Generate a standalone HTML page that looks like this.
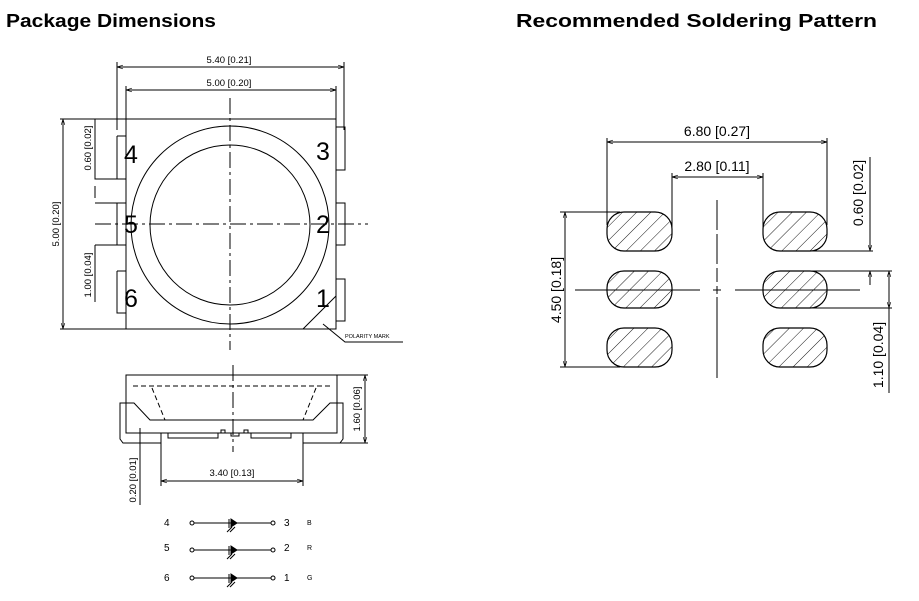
<!DOCTYPE html>
<html><head><meta charset="utf-8"><style>
html,body{margin:0;padding:0;background:#fff;width:919px;height:601px;overflow:hidden}
svg{display:block}
text{font-family:"Liberation Sans",sans-serif;fill:#000}
</style></head><body>
<svg width="919" height="601" viewBox="0 0 919 601" xmlns="http://www.w3.org/2000/svg">
<defs>
<pattern id="h" patternUnits="userSpaceOnUse" width="10" height="10" patternTransform="rotate(45)">
<line x1="0" y1="0" x2="0" y2="10" stroke="#000" stroke-width="0.9"/>
</pattern>
<marker id="a" viewBox="0 0 10 10" refX="10" refY="5" markerWidth="6" markerHeight="6" orient="auto-start-reverse"><path d="M0,2 L10,5 L0,8" fill="none" stroke="#000"/></marker>
</defs>
<text x="6" y="27" font-size="18" font-weight="bold" textLength="210" lengthAdjust="spacingAndGlyphs">Package Dimensions</text>
<text x="516" y="27" font-size="18" font-weight="bold" textLength="361" lengthAdjust="spacingAndGlyphs">Recommended Soldering Pattern</text>

<g stroke="#000" stroke-width="1" fill="none">
<!-- top view -->
<rect x="126" y="119" width="210" height="210"/>
<circle cx="230" cy="225" r="99"/>
<circle cx="230" cy="225" r="80"/>
<path d="M117,136h9M117,136v43h9M117,203v42h9M117,203h9M117,271v42h9M117,271h9"/>
<path d="M336,127h9v43h-9M336,203h9v42h-9M336,279h9v42h-9"/>
<line x1="230" y1="98" x2="230" y2="350" stroke-dasharray="16,4,3,4"/>
<line x1="95" y1="224" x2="368" y2="224" stroke-dasharray="16,4,3,4"/>
<line x1="117" y1="67" x2="344" y2="67" marker-start="url(#a)" marker-end="url(#a)"/>
<path d="M117,62v68M344,62v68"/>
<line x1="126" y1="90" x2="336" y2="90" marker-start="url(#a)" marker-end="url(#a)"/>
<path d="M126,86v33M336,86v33"/>
<line x1="63" y1="119" x2="63" y2="329" marker-start="url(#a)" marker-end="url(#a)"/>
<path d="M60,119h66M60,329h66"/>
<path d="M95,119v60h22M95,203h22M95,245h22M95,245v57M95,186v12M95,250v12"/>
<path d="M303,329L336,296M323,324L345,342H403"/>
<!-- side view -->
<path d="M126,375H337V433H126Z"/>
<path d="M133,386H331" stroke-dasharray="5,3"/>
<path d="M126,403H134L150,420H313L330,403H337"/>
<path d="M152,388L165,420M316,388L303,420" stroke-dasharray="5,3"/>
<path d="M126,403h-6v36l3,4h38M337,403h6v36l-3,4h-37"/>
<path d="M161,433V443M303,433V443M168,433v5h50v-5h3v-3h4v3h6v3h8v-3h5v-3h4v3h3v5h40v-5"/>
<line x1="233" y1="365" x2="233" y2="452" stroke-dasharray="16,4,3,4"/>
<path d="M161,443V486M303,443V486"/>
<line x1="161" y1="481" x2="303" y2="481" marker-start="url(#a)" marker-end="url(#a)"/>
<path d="M337,375H368M340,443H368"/>
<line x1="365" y1="375" x2="365" y2="443" marker-start="url(#a)" marker-end="url(#a)"/>
<line x1="140" y1="428" x2="140" y2="505"/>
<!-- schematic -->
<g>
<path d="M194,523H271M194,550H271M194,578H271"/>
<circle cx="192" cy="523" r="2"/><circle cx="273" cy="523" r="2"/>
<circle cx="192" cy="550" r="2"/><circle cx="273" cy="550" r="2"/>
<circle cx="192" cy="578" r="2"/><circle cx="273" cy="578" r="2"/>
</g>
<!-- soldering -->
<line x1="717" y1="200" x2="717" y2="282" stroke-dasharray="30,4"/>
<line x1="717" y1="297" x2="717" y2="378"/>
<line x1="575" y1="290" x2="700" y2="290"/>
<line x1="735" y1="290" x2="860" y2="290"/>
<path d="M713,290h8M717,286v8"/>
<line x1="607" y1="142" x2="827" y2="142" marker-start="url(#a)" marker-end="url(#a)"/>
<path d="M607,138V225M827,138V225"/>
<line x1="672" y1="177" x2="763" y2="177" marker-start="url(#a)" marker-end="url(#a)"/>
<path d="M672,173V232M763,173V232"/>
<line x1="565" y1="212" x2="565" y2="367" marker-start="url(#a)" marker-end="url(#a)"/>
<path d="M560,212H620M560,367H620"/>
<line x1="870" y1="157" x2="870" y2="251" marker-end="url(#a)"/>
<line x1="870" y1="285" x2="870" y2="271" marker-end="url(#a)"/>
<path d="M800,251H873M800,271H892M800,308H892"/>
<line x1="889" y1="271" x2="889" y2="308" marker-start="url(#a)" marker-end="url(#a)"/>
<line x1="889" y1="308" x2="889" y2="393"/>
</g>
<g stroke="#000" stroke-width="1.2" fill="url(#h)">
<rect x="607" y="212" width="65" height="39" rx="17"/>
<rect x="763" y="212" width="64" height="39" rx="17"/>
<rect x="607" y="271" width="65" height="37" rx="17"/>
<rect x="763" y="271" width="64" height="37" rx="17"/>
<rect x="607" y="328" width="65" height="39" rx="17"/>
<rect x="763" y="328" width="64" height="39" rx="17"/>
</g>
<!-- diodes -->
<g fill="#000" stroke="#000" stroke-width="1">
<path d="M229,519v9M231,519l6,4l-6,4z"/>
<path d="M229,546v9M231,546l6,4l-6,4z"/>
<path d="M229,574v9M231,574l6,4l-6,4z"/>
<path d="M227,532l5,-5M230,532l5,-5M227,559l5,-5M230,559l5,-5M227,587l5,-5M230,587l5,-5" fill="none"/>
</g>

<g font-size="9.5">
<text x="229" y="63" text-anchor="middle">5.40 [0.21]</text>
<text x="229" y="86" text-anchor="middle">5.00 [0.20]</text>
<text transform="translate(59,224) rotate(-90)" text-anchor="middle">5.00 [0.20]</text>
<text transform="translate(91,148) rotate(-90)" text-anchor="middle">0.60 [0.02]</text>
<text transform="translate(91,275) rotate(-90)" text-anchor="middle">1.00 [0.04]</text>
<text x="232" y="476" text-anchor="middle">3.40 [0.13]</text>
<text transform="translate(360,409) rotate(-90)" text-anchor="middle">1.60 [0.06]</text>
<text transform="translate(136,480) rotate(-90)" text-anchor="middle">0.20 [0.01]</text>
</g>
<text x="345" y="338" font-size="5.5" font-family="Liberation Serif,serif">POLARITY MARK</text>
<g font-size="25">
<text x="124" y="163">4</text><text x="316" y="160">3</text>
<text x="124" y="233">5</text><text x="316" y="233">2</text>
<text x="124" y="307">6</text><text x="316" y="307">1</text>
</g>
<g font-size="10">
<text x="164" y="526">4</text><text x="164" y="551">5</text><text x="164" y="581">6</text>
<text x="284" y="526">3</text><text x="284" y="551">2</text><text x="284" y="581">1</text>
</g>
<g font-size="7">
<text x="307" y="525">B</text><text x="307" y="550">R</text><text x="307" y="580">G</text>
</g>
<g font-size="14">
<text x="717" y="136" text-anchor="middle">6.80 [0.27]</text>
<text x="717" y="171" text-anchor="middle">2.80 [0.11]</text>
<text transform="translate(561,290) rotate(-90)" text-anchor="middle">4.50 [0.18]</text>
<text transform="translate(863,193) rotate(-90)" text-anchor="middle">0.60 [0.02]</text>
<text transform="translate(883,355) rotate(-90)" text-anchor="middle">1.10 [0.04]</text>
</g>
</svg>
</body></html>
